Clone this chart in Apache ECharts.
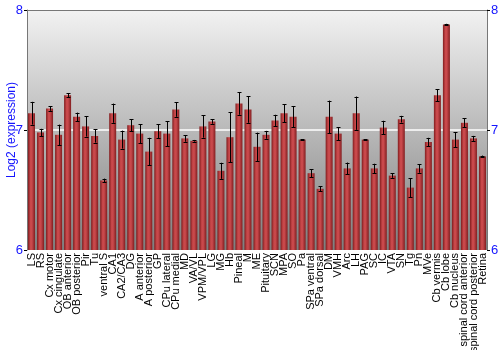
<!DOCTYPE html>
<html><head><meta charset="utf-8">
<script src="https://cdn.jsdelivr.net/npm/echarts@6/dist/echarts.min.js"></script>
<style>html,body{margin:0;padding:0;background:#fff}#c{width:500px;height:350px}</style>
</head><body><div id="c"></div>
<script>
const categories = ["LS","RS","Cx motor","Cx cingulate","OB anterior","OB posterior","Pir","Tu","ventral S","CA1","CA2/CA3","DG","A anterior","A posterior","GP","CPu lateral","CPu medial","MD","VA/VL","VPM/VPL","LG","MG","Hb","Pineal","M","ME","Pituitary","SCN","MPA","SO","Pa","SPa ventral","SPa dorsal","DM","VMH","Arc","LH","PAG","SC","IC","VTA","SN","Tg","Pn","MVe","Cb vermis","Cb lobe","Cb nucleus","spinal cord anterior","spinal cord posterior","Retina"];
const values = [7.14,6.98,7.18,6.96,7.29,7.11,7.03,6.95,6.58,7.14,6.92,7.04,6.97,6.82,6.99,6.97,7.17,6.93,6.91,7.03,7.07,6.66,6.94,7.22,7.17,6.86,6.96,7.08,7.14,7.11,6.92,6.64,6.51,7.11,6.97,6.68,7.14,6.92,6.68,7.02,6.62,7.09,6.52,6.68,6.90,7.29,7.88,6.92,7.06,6.93,6.78];
const errors = [0.095,0.03,0.02,0.085,0.015,0.035,0.085,0.055,0.015,0.08,0.075,0.05,0.08,0.115,0.06,0.105,0.06,0.028,0.007,0.094,0.018,0.067,0.21,0.093,0.11,0.118,0.033,0.047,0.074,0.086,0.004,0.032,0.022,0.135,0.054,0.049,0.139,0.004,0.039,0.057,0.019,0.028,0.079,0.036,0.035,0.049,0.005,0.063,0.038,0.021,0.007];
const yTicks = [6,7,8];
const yTitle = 'Log2 (expression)';

const chart = echarts.init(document.getElementById('c'), null, {renderer:'canvas'});
const font = 'Liberation Sans, Arial, sans-serif';
const errData = values.map((v,i)=>[i, v-errors[i], v+errors[i]]);
const barColor = new echarts.graphic.LinearGradient(0,0,1,0,[
  {offset:0,color:'#801c1e'},{offset:0.35,color:'#c8484a'},{offset:0.55,color:'#c9494c'},{offset:1,color:'#821e20'}]);
chart.setOption({
  animation:false,
  graphic:[{type:'text',x:12,y:130,rotation:Math.PI/2,
    style:{text:yTitle,fill:'#1515ff',font:'12px '+font,textAlign:'center',textVerticalAlign:'middle'}}],
  grid:{left:27,right:13,top:10,bottom:100,show:true,borderWidth:0,containLabel:false,outerBoundsMode:'none',
    backgroundColor:new echarts.graphic.LinearGradient(0,0,0,1,[{offset:0,color:'#f2f2f2'},{offset:0.5,color:'#b9b9b9'},{offset:1,color:'#7e7e7e'}])},
  xAxis:[{type:'category',data:categories,
    axisLine:{show:false},axisTick:{show:false},
    axisLabel:{rotate:90,interval:0,fontSize:11,fontFamily:font,color:'#000',margin:3}},
   {type:'category',position:'top',data:categories,axisLine:{show:true,lineStyle:{color:'#777',width:1}},axisTick:{show:false},axisLabel:{show:false}}],
  yAxis:[{type:'value',min:yTicks[0],max:yTicks[2],interval:1,position:'left',
    axisLine:{show:true,lineStyle:{color:'#777'}},axisTick:{show:true,length:3,lineStyle:{color:'#000'}},
    axisLabel:{color:'#1515ff',fontSize:13,fontFamily:font,margin:4},
    splitLine:{show:true,lineStyle:{color:['transparent','#ffffff','transparent'],width:1.5}}},
   {type:'value',min:yTicks[0],max:yTicks[2],interval:1,position:'right',
    axisLine:{show:true,lineStyle:{color:'#777'}},axisTick:{show:true,length:3,lineStyle:{color:'#000'}},
    axisLabel:{color:'#1515ff',fontSize:13,fontFamily:font,margin:4},splitLine:{show:false}}],
  series:[
    {type:'bar',data:values,barWidth:7,itemStyle:{color:barColor},clip:true},
    {type:'custom',data:errData,z:5,renderItem:function(params,api){
      const x=api.value(0);const lo=api.coord([x,api.value(1)]);const hi=api.coord([x,api.value(2)]);
      const cx=Math.round(lo[0])+0.5;const w=2;
      const st={stroke:'#000',lineWidth:1};
      return {type:'group',children:[
        {type:'line',shape:{x1:cx,y1:lo[1],x2:cx,y2:hi[1]},style:st},
        {type:'line',shape:{x1:cx-w,y1:Math.round(lo[1])+0.5,x2:cx+w,y2:Math.round(lo[1])+0.5},style:st},
        {type:'line',shape:{x1:cx-w,y1:Math.round(hi[1])+0.5,x2:cx+w,y2:Math.round(hi[1])+0.5},style:st}]};
    }}
  ]
});
</script></body></html>
